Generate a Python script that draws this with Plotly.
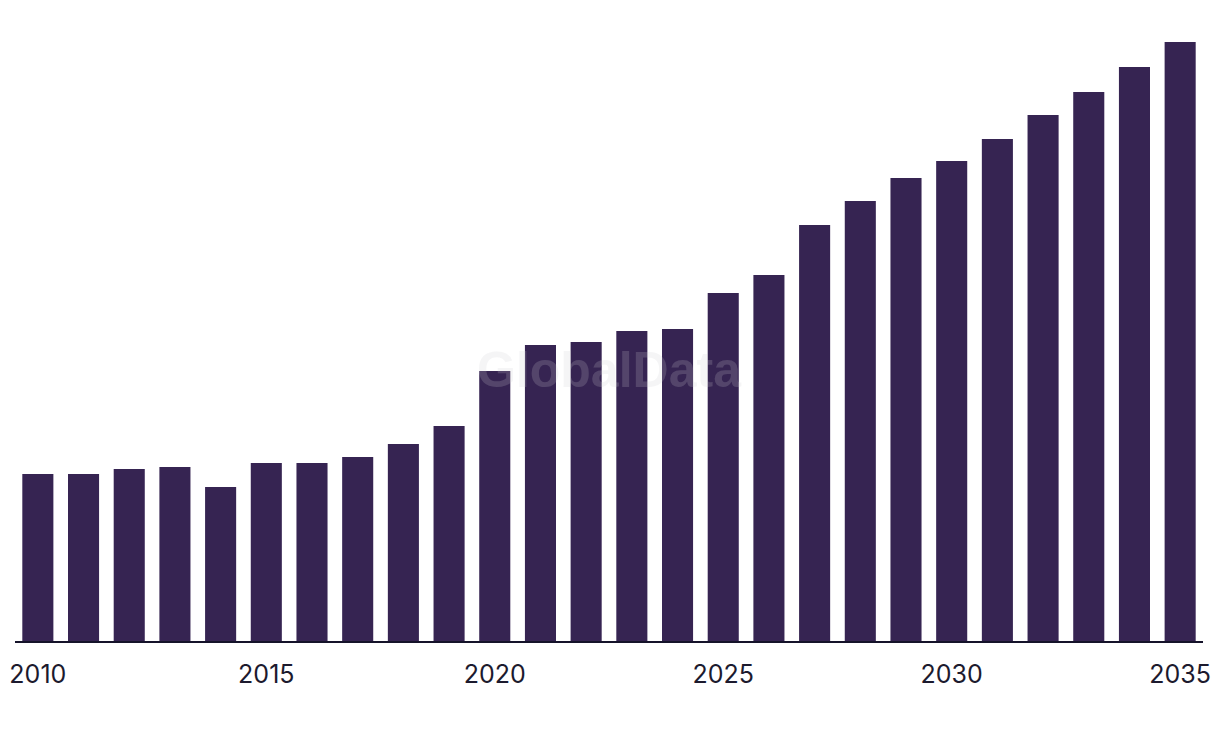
import plotly.graph_objects as go

years = list(range(2010, 2036))
# relative bar heights (no value axis shown)
values = [167, 167, 172, 174, 154, 178, 178, 184, 197, 215,
          270, 296, 299, 310, 312, 348, 366, 416, 440, 463,
          480, 502, 526, 549, 574, 599]
tick_years = [2010, 2015, 2020, 2025, 2030, 2035]

fig = go.Figure()
fig.add_trace(go.Bar(
    x=years,
    y=values,
    marker=dict(color='#362452', line=dict(width=0)),
    hoverinfo='x+y'
))

# page body has an 8px margin, so the figure is sized/offset to compensate
fig.update_layout(
    width=1212,
    height=730,
    margin=dict(l=7, r=17, t=13, b=97),
    plot_bgcolor='white',
    paper_bgcolor='white',
    showlegend=False,
    bargap=0.32,
    font=dict(family='Inter, Roboto, sans-serif', color='#1c1a2e'),
    xaxis=dict(
        range=[2009.5, 2035.5],
        tickvals=tick_years,
        ticktext=[str(t) for t in tick_years],
        tickfont=dict(size=25),
        showgrid=False,
        zeroline=False,
        showline=True,
        linecolor='#15132a',
        linewidth=2,
        ticks='',
        ticklabelstandoff=10,
        automargin=False
    ),
    yaxis=dict(
        range=[0, 620],
        visible=False,
        automargin=False
    ),
    annotations=[dict(
        text='<b>GlobalData</b>',
        x=0.5, y=0.437, xref='paper', yref='paper',
        xanchor='center', yanchor='middle',
        showarrow=False,
        font=dict(family='Liberation Sans, Arial, sans-serif', size=50,
                  color='rgba(206,206,212,0.2)')
    )]
)

fig.write_html("out.html")
